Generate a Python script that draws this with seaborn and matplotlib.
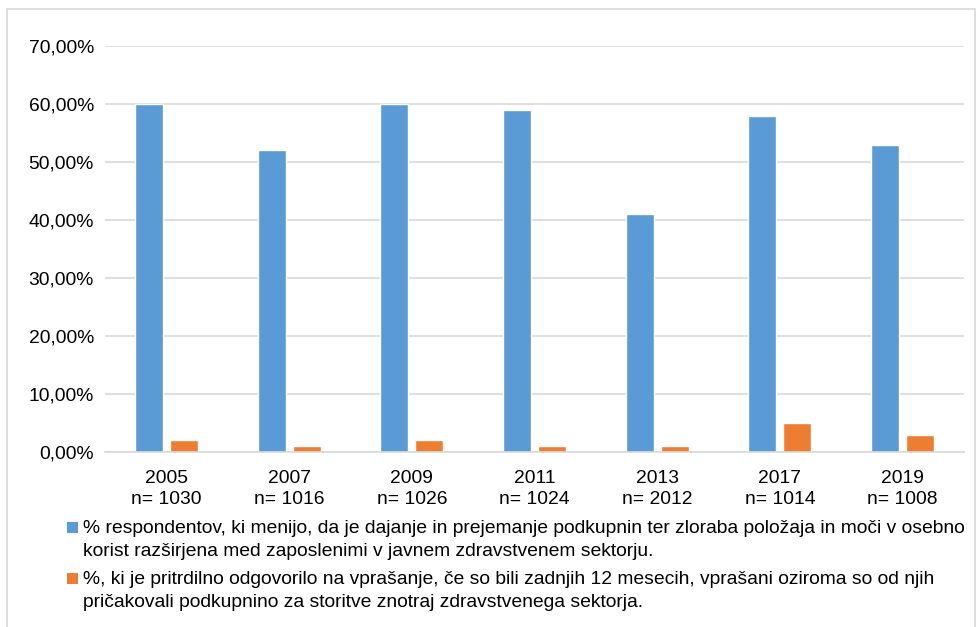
import matplotlib
matplotlib.use("Agg")
import matplotlib.pyplot as plt
import seaborn as sns
import pandas as pd
from matplotlib.patches import Rectangle
from matplotlib.ticker import FuncFormatter

years = ["2005", "2007", "2009", "2011", "2013", "2017", "2019"]
sample_sizes = ["1030", "1016", "1026", "1024", "2012", "1014", "1008"]
perceived = [0.60, 0.52, 0.60, 0.59, 0.41, 0.58, 0.53]
experienced = [0.02, 0.01, 0.02, 0.01, 0.01, 0.05, 0.03]
series_lines = [
    ["% respondentov, ki menijo, da je dajanje in prejemanje podkupnin ter zloraba položaja in moči v osebno",
     "korist razširjena med zaposlenimi v javnem zdravstvenem sektorju."],
    ["%, ki je pritrdilno odgovorilo na vprašanje, če so bili zadnjih 12 mesecih, vprašani oziroma so od njih",
     "pričakovali podkupnino za storitve znotraj zdravstvenega sektorja."],
]
series_names = [" ".join(l) for l in series_lines]
colors = ["#5B9BD5", "#ED7D31"]

tick_labels = [f"{y}\nn= {n}" for y, n in zip(years, sample_sizes)]
df = pd.DataFrame({
    "cat": tick_labels * 2,
    "value": perceived + experienced,
    "series": [series_names[0]] * len(years) + [series_names[1]] * len(years),
})

sns.set_theme(style="white")
plt.rcParams["font.family"] = ["Liberation Sans", "DejaVu Sans"]

W, H = 979, 627
fig = plt.figure(figsize=(W / 100, H / 100), dpi=100)
ax = fig.add_axes([105 / W, 1 - 452 / H, (964 - 105) / W, (452 - 46) / H])

sns.barplot(data=df, x="cat", y="value", hue="series", palette=colors,
            width=0.57, gap=0.2, ax=ax, legend=False, saturation=1)

FS = 13.85
ax.set_ylim(0, 0.70)
ax.set_yticks([i / 10 for i in range(8)])
ax.yaxis.set_major_formatter(FuncFormatter(lambda v, p: f"{v*100:.2f}%".replace(".", ",")))
ax.grid(axis="y", color="#D9D9D9", linewidth=1.2)
ax.set_axisbelow(True)
for s in ["top", "right", "left"]:
    ax.spines[s].set_visible(False)
ax.spines["bottom"].set_color("#D9D9D9")
ax.spines["bottom"].set_linewidth(1.2)
ax.tick_params(axis="both", length=0, labelsize=FS, colors="#000000")
ax.tick_params(axis="y", pad=8)
ax.tick_params(axis="x", pad=13)
for t in ax.get_xticklabels():
    t.set_linespacing(1.27)
ax.set_xlabel("")
ax.set_ylabel("")
ax.set_xlim(-0.5, len(years) - 0.5)

# legend drawn below the plot: one square marker per series, text aligned to its first line
baselines = [[533, 556], [584, 607]]
for color, lines, bl in zip(colors, series_lines, baselines):
    fig.patches.append(Rectangle((67 / W, 1 - bl[0] / H), 11 / W, 11 / H,
                                 transform=fig.transFigure, facecolor=color,
                                 edgecolor="none"))
    for line, b in zip(lines, bl):
        fig.text(83 / W, 1 - b / H, line, fontsize=FS, va="baseline", ha="left",
                 color="#000000")

fig.patches.append(Rectangle((7 / W, -0.05), (975 - 7) / W, 1.05 - 9 / H,
                             transform=fig.transFigure, fill=False,
                             edgecolor="#D9D9D9", linewidth=1.2))

fig.savefig("out.png", dpi=100)
